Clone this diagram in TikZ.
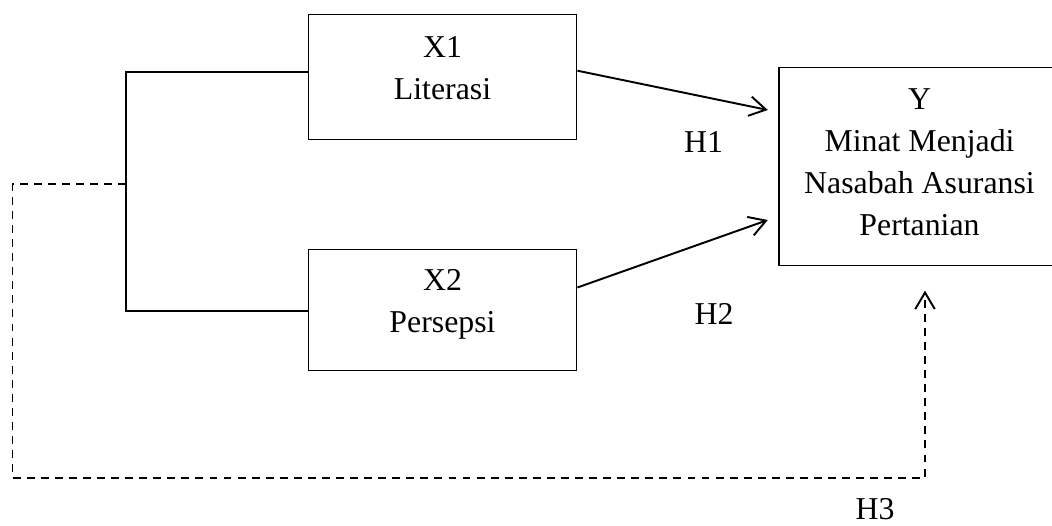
\documentclass[tikz,border=0pt]{standalone}
\usepackage{fontspec}
\setmainfont{Liberation Serif}
\usetikzlibrary{arrows.meta}
\begin{document}
\begin{tikzpicture}[line cap=butt, line join=miter, font=\fontsize{18.1}{24}\selectfont, >={Straight Barb[length=3.3mm,width=3.9mm]}]
			\tikzset{box/.style={draw, line width=0.75pt, align=center, inner sep=0pt},
				link/.style={line width=1.1pt},
				dashlink/.style={line width=1.1pt, dash pattern=on 4.5pt off 3.5pt},
				hyp/.style={inner sep=0pt}}
			\useasboundingbox (0,0) rectangle (21.04,-10.5);
			\node[box, minimum width=5.37cm, minimum height=2.49cm, text depth=0.36cm] (x1) at (8.85,-1.54) {X1\\Literasi};
			\node[box, minimum width=5.37cm, minimum height=2.41cm, text depth=0.37cm] (x2) at (8.85,-6.2) {X2\\Persepsi};
			\node[box, minimum width=5.62cm, minimum height=3.96cm, text depth=0.18cm] (y) at (18.39,-3.33) {Y\\Minat Menjadi\\Nasabah Asuransi\\Pertanian};
			\coordinate (b1) at (2.52,-1.434);
			\coordinate (b2) at (2.52,-6.22);
			\coordinate (bm) at (2.52,-3.68);
			\draw[link] (x1.west |- b1) -- (b1) -- (b2) -- (x2.west |- b2);
			\draw[link, ->] ([yshift=0.126cm]x1.east) -- ([xshift=-0.21cm,yshift=1.13cm]y.west);
			\draw[link, ->] ([yshift=0.45cm]x2.east) -- ([xshift=-0.21cm,yshift=-1.07cm]y.west);
			\draw[dashlink, ->] (bm) -| (0.25,-9.56) -| ([xshift=0.11cm,yshift=-0.49cm]y.south);
			\node[hyp] (h1) at (14.07,-2.83) {H1};
			\node[hyp] (h2) at (14.28,-6.28) {H2};
			\node[hyp] (h3) at (17.5,-10.18) {H3};
		\end{tikzpicture}
\end{document}
